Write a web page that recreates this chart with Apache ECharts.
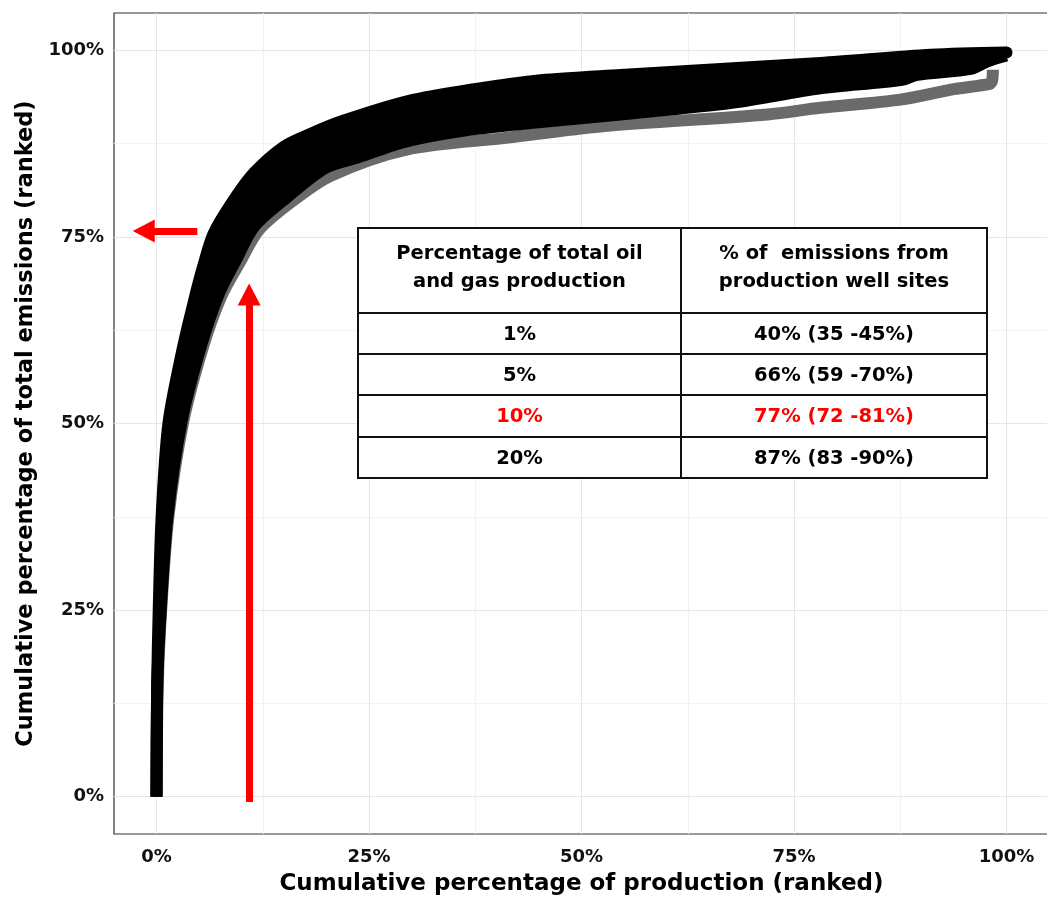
<!DOCTYPE html>
<html>
<head>
<meta charset="utf-8">
<script src="https://cdn.jsdelivr.net/npm/echarts@6/dist/echarts.min.js"></script>
<style>
  html, body { margin: 0; padding: 0; background: #fff; }
  #chart { width: 1047px; height: 899px; }
</style>
</head>
<body>
<div id="chart"></div>
<script>
// upper and lower edge of the bootstrap band (centre of the stroke), [x %, y %]
const upperCurve = [[0, 0], [0.08, 15], [0.26, 25], [0.6, 37.5], [1.4, 50], [3.0, 59.6], [4.45, 66.6], [5.5, 71.1], [6.7, 75.4], [9.0, 79.8], [11.5, 83.6], [15.0, 87.1], [18.3, 88.9], [21.8, 90.5], [29.6, 93.2], [37.4, 94.8], [45.2, 96.0], [54.6, 96.7], [78.1, 98.3], [91.1, 99.4], [100, 99.7]]
const lowerCurve = [[0, 0], [0.1, 15.3], [0.5, 25], [1.3, 37.6], [2.95, 50.3], [5.15, 60.1], [7.3, 67.3], [9.35, 71.9], [11.5, 76.4], [15.35, 80.3], [19.8, 84.2], [23.8, 85.7], [29.4, 87.8], [37.2, 89.4], [45.2, 90.4], [54.6, 91.4], [67.9, 93.0], [78.1, 94.9], [87.5, 96.0], [89.5, 96.7], [95.8, 97.5], [97.7, 98.5], [100, 99.3]]
// outlier run drawn in grey
const greyCurve = [[0, 0], [0.15, 15], [0.55, 25], [1.4, 37.5], [3.1, 50], [5.4, 60], [7.6, 67], [9.8, 71.6], [12.1, 76.0], [16.0, 79.8], [20.5, 83.2], [29.4, 86.7], [41.3, 88.3], [52.2, 89.8], [71.9, 91.4], [78.1, 92.3], [87.5, 93.4], [93.8, 94.8], [98.0, 95.5], [98.3, 95.9], [98.4, 97.4]]

const majorTicks = [0, 25, 50, 75, 100]
const minorTicks = [12.5, 37.5, 62.5, 87.5]

// red arrows: [from, to]
const arrowH = [[4.8, 75.8], [-1.5, 75.8]]
const arrowV = [[10.9, -0.7], [10.9, 67.3]]

// table
const tableHeader = [['Percentage of total oil', 'and gas production'], ['% of  emissions from', 'production well sites']]
const tableProduction = ['1%', '5%', '10%', '20%']
const tableEmissions = ['40% (35 -45%)', '66% (59 -70%)', '77% (72 -81%)', '87% (83 -90%)']
const highlightRow = 2

const FONT = 'DejaVu Sans'

let myChart = echarts.init(document.getElementById('chart'))

// table graphic
const tbl = { left: 358, right: 987, top: 228, mid: 681, rows: [313, 354, 395, 437, 478] }
let graphics = []
graphics.push({
  type: 'rect',
  shape: { x: tbl.left, y: tbl.top, width: tbl.right - tbl.left, height: tbl.rows[4] - tbl.top },
  style: { fill: '#fff', stroke: '#111', lineWidth: 2 },
  z: 100
})
graphics.push({
  type: 'line',
  shape: { x1: tbl.mid, y1: tbl.top, x2: tbl.mid, y2: tbl.rows[4] },
  style: { stroke: '#111', lineWidth: 2 },
  z: 101
})
for (let i = 0; i < 4; i++) {
  graphics.push({
    type: 'line',
    shape: { x1: tbl.left, y1: tbl.rows[i], x2: tbl.right, y2: tbl.rows[i] },
    style: { stroke: '#111', lineWidth: 2 },
    z: 101
  })
}
const colCentre = [(tbl.left + tbl.mid) / 2, (tbl.mid + tbl.right) / 2]
const cellFont = 'bold 19.5px "' + FONT + '"'
tableHeader.forEach(function (lines, c) {
  lines.forEach(function (t, k) {
    graphics.push({
      type: 'text',
      x: colCentre[c],
      y: 254 + k * 28,
      style: { text: t, fill: '#000', font: cellFont, align: 'center', verticalAlign: 'middle' },
      z: 102
    })
  })
})
for (let i = 0; i < 4; i++) {
  const cy = (tbl.rows[i] + tbl.rows[i + 1]) / 2 + 1
  const color = i === highlightRow ? '#ff0000' : '#000'
  graphics.push({
    type: 'text', x: colCentre[0], y: cy,
    style: { text: tableProduction[i], fill: color, font: cellFont, align: 'center', verticalAlign: 'middle' },
    z: 102
  })
  graphics.push({
    type: 'text', x: colCentre[1], y: cy,
    style: { text: tableEmissions[i], fill: color, font: cellFont, align: 'center', verticalAlign: 'middle' },
    z: 102
  })
}

const axisCommon = {
  type: 'value',
  min: -5,
  max: 105,
  nameLocation: 'middle',
  nameTextStyle: { fontFamily: FONT, fontWeight: 'bold', fontSize: 23, color: '#000' },
  axisLine: { show: false },
  axisTick: { show: true, customValues: majorTicks, length: 5, lineStyle: { color: '#333', width: 1 } },
  axisLabel: {
    customValues: majorTicks,
    formatter: '{value}%',
    fontFamily: FONT,
    fontWeight: 'bold',
    fontSize: 18,
    color: '#111'
  },
  splitLine: { show: false }
}

const gridStyle = (c) => ({ color: c, width: 1, type: 'solid' })

// round end on the right-hand tip of the band
const upperData = upperCurve.map(function (p, i) {
  if (i === upperCurve.length - 1) {
    return { value: p, symbol: 'circle', symbolSize: 12, itemStyle: { color: '#000' } }
  }
  return { value: p, symbol: 'none' }
})

myChart.setOption({
  animation: false,
  backgroundColor: '#fff',
  grid: {
    left: 114,
    right: -2,
    top: 13,
    bottom: 65,
    containLabel: false,
    outerBoundsMode: 'none',
    show: true,
    borderColor: '#333',
    borderWidth: 1.2,
    backgroundColor: 'transparent'
  },
  xAxis: Object.assign({}, axisCommon, {
    name: 'Cumulative percentage of production (ranked)',
    nameGap: 39,
    axisLabel: Object.assign({}, axisCommon.axisLabel, { margin: 14 })
  }),
  yAxis: Object.assign({}, axisCommon, {
    name: 'Cumulative percentage of total emissions (ranked)',
    nameGap: 69,
    nameTextStyle: Object.assign({}, axisCommon.nameTextStyle, { fontSize: 22.5 }),
    axisLabel: Object.assign({}, axisCommon.axisLabel, { margin: 10 })
  }),
  graphic: graphics,
  series: [
    { // panel grid lines
      type: 'line',
      data: [],
      z: 1,
      silent: true,
      markLine: {
        z: 1,
        silent: true,
        symbol: 'none',
        label: { show: false },
        animation: false,
        data: minorTicks.map(v => ({ xAxis: v, lineStyle: gridStyle('#f2f2f2') }))
          .concat(minorTicks.map(v => ({ yAxis: v, lineStyle: gridStyle('#f2f2f2') })))
          .concat(majorTicks.map(v => ({ xAxis: v, lineStyle: gridStyle('#e6e6e6') })))
          .concat(majorTicks.map(v => ({ yAxis: v, lineStyle: gridStyle('#e6e6e6') })))
      }
    },
    {
      name: 'grey run',
      type: 'line',
      data: greyCurve,
      z: 2,
      symbol: 'none',
      smooth: 0.3,
      lineStyle: { color: '#6a6a6a', width: 12, cap: 'butt', join: 'round' }
    },
    { // fill between the band edges
      type: 'custom',
      z: 3,
      data: [[0, 0]],
      renderItem: function (params, api) {
        const pts = upperCurve.map(p => api.coord(p))
          .concat(lowerCurve.slice().reverse().map(p => api.coord(p)))
        return { type: 'polygon', shape: { points: pts }, style: { fill: '#000' } }
      }
    },
    {
      name: 'upper',
      type: 'line',
      data: upperData,
      z: 4,
      showSymbol: true,
      symbol: 'none',
      smooth: 0.3,
      lineStyle: { color: '#000', width: 12, cap: 'butt', join: 'round' }
    },
    {
      name: 'lower',
      type: 'line',
      data: lowerCurve,
      z: 4,
      symbol: 'none',
      smooth: 0.3,
      lineStyle: { color: '#000', width: 12, cap: 'butt', join: 'round' }
    },
    { // red arrows
      type: 'line',
      data: [],
      z: 5,
      markLine: {
        z: 10,
        silent: true,
        symbol: ['none', 'triangle'],
        symbolSize: [23, 22],
        label: { show: false },
        lineStyle: { color: '#ff0000', width: 7, type: 'solid' },
        data: [
          [{ coord: arrowH[0] }, { coord: arrowH[1] }],
          [{ coord: arrowV[0] }, { coord: arrowV[1] }]
        ]
      }
    }
  ]
})
</script>
</body>
</html>
